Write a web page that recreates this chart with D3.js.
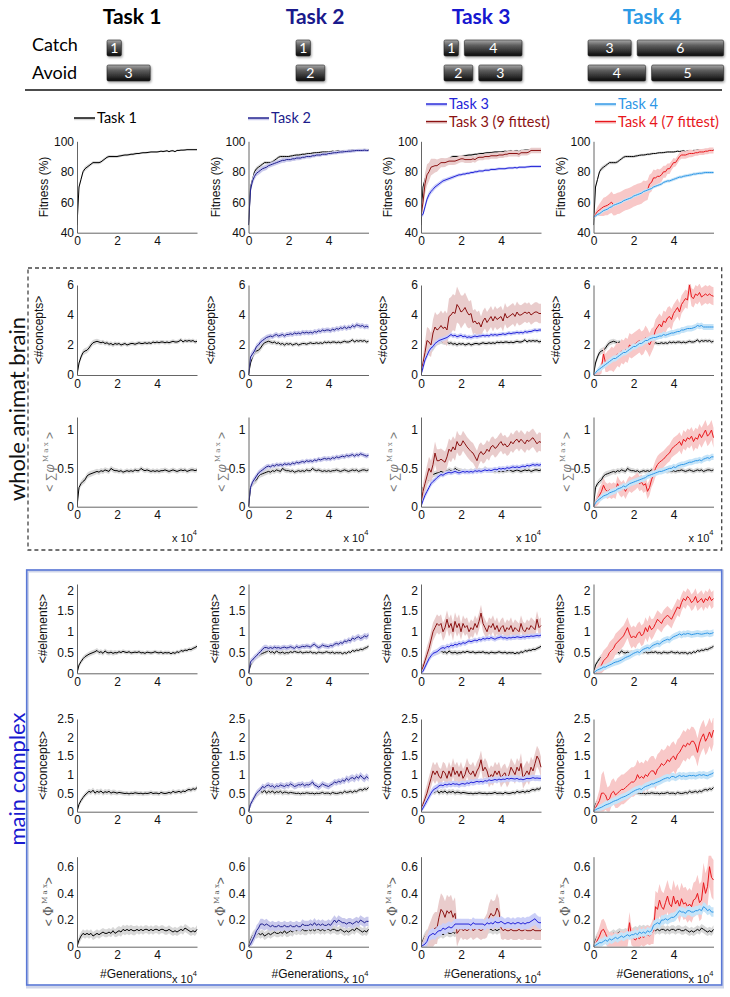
<!DOCTYPE html>
<html><head><meta charset="utf-8">
<script src="https://cdn.jsdelivr.net/npm/d3@7"></script>
<style>body{margin:0;background:#fff}</style>
</head><body>
<svg id="c" width="730" height="997"></svg>
<script>
// ---------- DATA ----------
const generations = d3.range(61).map(i => i / 10); // x 10^4 generations
const tasks = ["Task 1", "Task 2", "Task 3", "Task 4"];
const catchBlocks = [[1], [1], [1, 4], [3, 6]];
const avoidBlocks = [[3], [2], [2, 3], [4, 5]];
const legendLabels = [["Task 1"], ["Task 2"], ["Task 3", "Task 3 (9 fittest)"], ["Task 4", "Task 4 (7 fittest)"]];
const xTicks = [0, 2, 4];
const fitTicks = [40, 60, 80, 100];
const conWTicks = [0, 2, 4, 6];
const phiWTicks = [0, 0.5, 1];
const elMTicks = [0, 0.5, 1, 1.5, 2];
const conMTicks = [0, 0.5, 1, 1.5, 2, 2.5];
const phiMTicks = [0, 0.2, 0.4, 0.6];

// Fitness (%)
const fit_t1 = [45,70,75,80,82,83,84,85,86,86, 86,86,86.5,87.5,88.5,89.5,90,90,90,90, 90,90.3,90.5,90.8,91,91,91.2,91.5,91.5,91.8, 92,92,92.3,92.5,92.5,92.6,92.8,93,93,93, 93,93.2,93.5,93.3,93.5,93.8,93.2,93.7,93.8,93.2, 94,94,94.2,94.2,94.3,94.5,94.5,94.5,94.5,94.5,94.5];
const fit_t1_e = [0.5,1.5,1.5,1.5,1.5,1.5,1.2,1,1,1, 1,1,1,1,1,1,1,1,1,0.9, 0.9,0.9,0.8,0.8,0.8,0.8,0.8,0.8,0.8,0.8, 0.7,0.7,0.7,0.7,0.7,0.7,0.7,0.7,0.7,0.7, 0.6,0.6,0.6,0.6,0.6,0.6,0.6,0.6,0.6,0.6, 0.6,0.6,0.6,0.6,0.6,0.6,0.6,0.6,0.6,0.6,0.6];
const fit_t2 = [45,68,74,77,79,80,81,82,82.5,83, 84,84.5,85,85.5,86,86.5,87,87.5,87.5,88, 88,88,88.5,88.5,89,89,89,89.5,89.5,90, 90,90,90.5,90.5,91,91,91,91.5,91.5,91.5, 92,92,92.3,92.5,92.5,92.8,93,93,93.2,93.3, 93.5,93.5,93.7,93.8,94,94,94,94,94.2,94,94];
const fit_t2_e = [1,2.5,2.5,2.2,2,2,2,1.8,1.8,1.8, 1.6,1.6,1.6,1.5,1.5,1.5,1.5,1.5,1.5,1.5, 1.4,1.4,1.4,1.4,1.4,1.4,1.3,1.3,1.3,1.3, 1.3,1.3,1.2,1.2,1.2,1.2,1.2,1.2,1.2,1.2, 1.2,1.2,1.2,1.2,1.2,1.1,1.1,1.1,1.1,1.1, 1.1,1.1,1.1,1.1,1,1,1,1,1,1,1];
const fit_t3 = [51,52,57,62,65,67,68.5,70,71,72, 73,74,74.5,75,75.5,76,76.5,77,77.5,78, 78,78.5,78.5,79,79,79.5,79.5,80,80,80.5, 80.5,80.5,81,81,81,81.5,81.5,81.5,81.8,82, 82,82,82,82.3,82.5,82.5,82.5,82.8,82.5,83, 83,83,83,83.2,83.3,83.5,83.5,83.5,83.5,83.5,83.5];
const fit_t3_e = [0.5,1.5,2,2,2,1.8,1.8,1.6,1.5,1.5, 1.4,1.4,1.3,1.3,1.2,1.2,1.2,1.1,1.1,1.1, 1,1,1,1,1,1,1,1,1,1, 0.9,0.9,0.9,0.9,0.9,0.9,0.9,0.9,0.9,0.9, 0.8,0.8,0.8,0.8,0.8,0.8,0.8,0.8,0.8,0.8, 0.8,0.8,0.8,0.8,0.8,0.8,0.8,0.8,0.8,0.8,0.8];
const fit_t3f = [51,60,72,78,80,83,83.5,84,84,85, 86,86,86,86.5,87,87,87,87,87.5,88, 88.5,88.5,88,88,88,88,88.5,88,89,89.5, 89.5,89.5,90,90,90,90.5,90.5,90.5,90.5,91, 91,91,91.5,91.5,92,92,92,92,92,91.5, 92.5,92.5,92.5,92.5,93,94,94,94,94,94,94];
const fit_t3f_e = [1,5,7,7,6,5.5,5,4.5,4,3.5, 3,3,2.8,2.6,2.5,2.5,2.5,2.4,2.4,2.3, 2.2,2.2,2.2,2.2,2.2,2.2,2.1,2.1,2.1,2, 2,2,2,2,2,2,2,2,2,2, 2,2,2,2,2,2,2,2,2,2, 1.8,1.8,1.8,1.8,1.8,1.8,1.8,1.8,1.8,1.8,1.8];
const fit_t4 = [50,51,52,52.5,53.5,54.5,55,55.5,56.5,57, 58,58.5,59,59.5,60,61,61.5,62,62.5,63, 64,64.5,65,65.5,66,67,67.5,68,68.5,69, 70,70.5,71,71.5,72,73,73.5,74,74,74.5, 75,75.5,76,76.5,76.5,77,77.3,77.5,77.8,78, 78.5,78.5,78.8,79,79,79.3,79.5,79.5,79.5,79.5,79.5];
const fit_t4_e = [0.5,0.8,1,1,1,1,1,1,1,1, 1,1,1,1,1,1,1,1,1,1, 1,1,1,1,1,1,1,1,1,1, 1,1,1,1,1,1,1,1,1,1, 1,1,1,1,1,1,1,1,1,1, 1,1,1,1,1,1,1,1,1,1,1];
const fit_t4f = [50,52,54,55,56,57,57.5,58,59,60, 58.3,58.5,59.2,59.5,60.2,61,61.7,62,62.5,63.2, 64,64.5,65.2,65.5,66,67.2,67.5,68,72,73, 76,76,77,77,78,80,80,82,82,84, 86,86,88,90,91,91,91,91.5,92,92, 92,92.5,92.5,93,93,93,93.5,93.5,94,94,94];
const fit_t4f_e = [1,2,3,4,5,6,6,6.5,6.5,7, 7,7,7,7,7,7,7,7,7,7, 7,7,7,7,7,7,6.5,6.5,6,6, 5.5,5,5,4.5,4.5,4,4,3.5,3.5,3, 3,2.5,2.5,2.5,2.5,2.5,2.5,2.5,2.5,2.5, 2,2,2,2,2,2,2,2,2,2,2];

// <#concepts> whole animat brain
const conW_t1 = [0,0.8,1.2,1.5,1.6,1.65,1.8,2.0,2.15,2.2, 2.25,2.2,2.15,2.2,2.1,2.15,2.05,2.1,2.0,2.1, 2.05,2.1,2.0,2.05,2.1,2.0,2.05,2.1,2.1,2.05, 2.1,2.15,2.1,2.1,2.15,2.1,2.15,2.1,2.2,2.15, 2.2,2.15,2.2,2.2,2.15,2.2,2.15,2.2,2.25,2.2, 2.2,2.25,2.35,2.2,2.3,2.25,2.3,2.25,2.3,2.2,2.25];
const conW_t1_e = [0.05,0.2,0.2,0.2,0.2,0.2,0.2,0.2,0.18,0.18, 0.16,0.16,0.15,0.15,0.15,0.15,0.15,0.15,0.15,0.15, 0.14,0.14,0.14,0.14,0.14,0.14,0.14,0.14,0.14,0.14, 0.14,0.14,0.14,0.14,0.14,0.14,0.14,0.14,0.14,0.14, 0.13,0.13,0.13,0.13,0.13,0.13,0.13,0.13,0.13,0.13, 0.13,0.13,0.13,0.13,0.13,0.13,0.13,0.13,0.13,0.13,0.13];
const conW_t2 = [0,1.2,1.4,1.6,1.9,2.0,2.2,2.3,2.4,2.5, 2.55,2.6,2.55,2.65,2.7,2.6,2.65,2.7,2.6,2.7, 2.7,2.75,2.7,2.8,2.75,2.8,2.75,2.85,2.8,2.85, 2.8,2.85,2.8,2.9,2.85,2.95,2.9,3.0,2.95,3.0, 3.0,2.95,3.05,3.0,3.1,3.05,3.15,3.1,3.2,3.1, 3.2,3.15,3.3,3.2,3.35,3.3,3.25,3.3,3.2,3.25,3.2];
const conW_t2_e = [0.05,0.25,0.25,0.2,0.2,0.2,0.2,0.2,0.18,0.18, 0.17,0.17,0.17,0.17,0.16,0.16,0.16,0.16,0.16,0.16, 0.16,0.16,0.16,0.16,0.16,0.16,0.16,0.16,0.16,0.16, 0.16,0.16,0.16,0.16,0.16,0.16,0.16,0.16,0.16,0.16, 0.16,0.16,0.16,0.16,0.16,0.16,0.16,0.16,0.16,0.16, 0.16,0.16,0.16,0.16,0.16,0.16,0.16,0.16,0.16,0.16,0.16];
const conW_t3 = [0,0.5,1.0,1.3,1.6,1.8,1.9,2.1,2.2,2.3, 2.35,2.4,2.45,2.5,2.6,2.7,2.6,2.65,2.55,2.6, 2.65,2.55,2.6,2.5,2.55,2.5,2.55,2.6,2.55,2.6, 2.6,2.65,2.6,2.65,2.6,2.7,2.65,2.7,2.65,2.7, 2.7,2.75,2.7,2.75,2.8,2.75,2.8,2.8,2.85,2.8, 2.85,2.8,2.9,2.85,2.9,2.9,2.95,3.0,2.95,3.0,3.0];
const conW_t3_e = [0.05,0.2,0.2,0.2,0.2,0.18,0.18,0.18,0.16,0.16, 0.15,0.15,0.15,0.15,0.15,0.15,0.15,0.15,0.15,0.15, 0.15,0.15,0.15,0.15,0.15,0.15,0.15,0.15,0.15,0.15, 0.14,0.14,0.14,0.14,0.14,0.14,0.14,0.14,0.14,0.14, 0.14,0.14,0.14,0.14,0.14,0.14,0.14,0.14,0.14,0.14, 0.14,0.14,0.14,0.14,0.14,0.14,0.14,0.14,0.14,0.14,0.14];
const conW_t3f = [0.2,0.8,1.5,2.3,2.2,2.0,2.8,3.2,3.0,3.1, 3.3,3.1,3.2,3.0,3.9,4.0,4.2,4.1,4.7,4.5, 4.2,4.3,4.5,4.2,4.0,4.1,3.5,3.6,3.4,3.5, 3.2,3.6,3.8,3.5,3.7,3.9,3.6,3.9,3.7,3.8, 3.9,3.6,4.1,3.8,3.9,4.0,4.1,3.9,4.2,4.0, 4.0,4.1,4.2,4.1,4.2,4.0,4.1,4.2,4.2,4.1,4.1];
const conW_t3f_e = [0.2,0.5,0.7,0.9,0.9,0.8,0.9,1,1,1, 1,1,1.1,1.1,1.2,1.2,1.2,1.2,1.2,1.1, 1.1,1,1,1,0.9,0.9,0.8,0.8,0.8,0.8, 0.7,0.7,0.7,0.7,0.7,0.7,0.7,0.7,0.7,0.7, 0.7,0.7,0.7,0.7,0.7,0.7,0.7,0.7,0.7,0.7, 0.65,0.65,0.65,0.65,0.65,0.65,0.65,0.65,0.65,0.65,0.65];
const conW_t4 = [0,0.15,0.3,0.4,0.5,0.6,0.7,0.8,0.9,1.0, 1.1,1.1,1.2,1.3,1.4,1.5,1.5,1.6,1.7,1.8, 1.9,1.9,2.0,2.1,2.1,2.2,2.3,2.3,2.4,2.45, 2.5,2.5,2.55,2.6,2.6,2.7,2.65,2.7,2.75,2.8, 2.8,2.85,2.9,2.9,3.0,3.0,3.05,3.1,3.1,3.1, 3.15,3.2,3.3,3.25,3.3,3.2,3.2,3.2,3.2,3.2,3.2];
const conW_t4_e = [0.05,0.1,0.15,0.2,0.2,0.2,0.2,0.2,0.2,0.2, 0.2,0.2,0.2,0.2,0.2,0.2,0.2,0.2,0.2,0.2, 0.2,0.2,0.2,0.2,0.2,0.2,0.2,0.2,0.2,0.2, 0.2,0.2,0.2,0.2,0.2,0.2,0.2,0.2,0.2,0.2, 0.2,0.2,0.2,0.2,0.2,0.2,0.2,0.2,0.2,0.2, 0.2,0.2,0.2,0.2,0.2,0.2,0.2,0.2,0.2,0.2,0.2];
const conW_t4f = [0,0.1,0.2,0.3,0.5,1.4,0.8,0.9,1.0,1.1, 1.0,1.2,1.4,1.3,1.6,1.5,1.7,1.6,2.0,1.9, 2.0,2.1,2.2,2.3,2.1,2.2,2.5,2.3,2.0,2.3, 2.5,3.0,3.2,3.4,3.2,3.6,3.5,3.8,3.9,3.7, 4.1,4.3,4.5,4.2,4.7,4.9,5.1,5.0,6.0,5.2, 5.1,5.4,5.3,5.5,5.2,5.3,5.4,5.3,5.4,5.3,5.25];
const conW_t4f_e = [0.05,0.1,0.2,0.3,0.4,0.5,0.6,0.7,0.7,0.8, 0.8,0.8,0.8,0.8,0.8,0.8,0.8,0.8,0.8,0.8, 0.8,0.8,0.8,0.8,0.8,0.8,0.8,0.8,0.8,0.8, 0.7,0.7,0.7,0.7,0.7,0.7,0.7,0.7,0.7,0.7, 0.6,0.6,0.6,0.6,0.6,0.6,0.6,0.6,0.6,0.6, 0.6,0.6,0.6,0.6,0.6,0.6,0.6,0.6,0.6,0.6,0.6];

// < sum phi Max > whole animat brain
const phiW_t1 = [0,0.25,0.3,0.33,0.35,0.4,0.42,0.43,0.44,0.45, 0.46,0.45,0.47,0.46,0.48,0.47,0.46,0.5,0.48,0.47, 0.47,0.46,0.47,0.45,0.46,0.47,0.46,0.47,0.46,0.48, 0.47,0.47,0.5,0.48,0.47,0.48,0.47,0.46,0.47,0.46, 0.47,0.46,0.47,0.47,0.48,0.47,0.46,0.47,0.48,0.47, 0.46,0.47,0.48,0.47,0.48,0.46,0.47,0.48,0.48,0.47,0.48];
const phiW_t1_e = [0.01,0.04,0.04,0.04,0.04,0.04,0.04,0.04,0.035,0.035, 0.035,0.035,0.035,0.035,0.035,0.035,0.035,0.035,0.035,0.035, 0.03,0.03,0.03,0.03,0.03,0.03,0.03,0.03,0.03,0.03, 0.03,0.03,0.03,0.03,0.03,0.03,0.03,0.03,0.03,0.03, 0.03,0.03,0.03,0.03,0.03,0.03,0.03,0.03,0.03,0.03, 0.03,0.03,0.03,0.03,0.03,0.03,0.03,0.03,0.03,0.03,0.03];
const phiW_t2 = [0,0.25,0.32,0.36,0.4,0.44,0.46,0.48,0.5,0.52, 0.53,0.52,0.54,0.53,0.55,0.54,0.55,0.54,0.56,0.55, 0.56,0.55,0.57,0.56,0.58,0.57,0.58,0.59,0.58,0.6, 0.59,0.6,0.59,0.61,0.6,0.62,0.61,0.62,0.63,0.62, 0.63,0.62,0.64,0.63,0.65,0.64,0.65,0.66,0.65,0.67, 0.66,0.67,0.68,0.66,0.68,0.67,0.69,0.68,0.67,0.66,0.67];
const phiW_t2_e = [0.01,0.04,0.04,0.04,0.035,0.035,0.035,0.035,0.035,0.035, 0.03,0.03,0.03,0.03,0.03,0.03,0.03,0.03,0.03,0.03, 0.03,0.03,0.03,0.03,0.03,0.03,0.03,0.03,0.03,0.03, 0.03,0.03,0.03,0.03,0.03,0.03,0.03,0.03,0.03,0.03, 0.03,0.03,0.03,0.03,0.03,0.03,0.03,0.03,0.03,0.03, 0.03,0.03,0.03,0.03,0.03,0.03,0.03,0.03,0.03,0.03,0.03];
const phiW_t3 = [0,0.08,0.15,0.2,0.25,0.3,0.33,0.35,0.38,0.4, 0.42,0.41,0.43,0.44,0.45,0.44,0.45,0.46,0.45,0.44, 0.45,0.46,0.45,0.46,0.45,0.46,0.45,0.47,0.46,0.47, 0.46,0.47,0.48,0.47,0.48,0.47,0.48,0.49,0.48,0.5, 0.49,0.5,0.49,0.51,0.5,0.51,0.52,0.51,0.52,0.51, 0.52,0.53,0.52,0.54,0.53,0.54,0.55,0.54,0.55,0.54,0.55];
const phiW_t3_e = [0.01,0.03,0.04,0.04,0.04,0.04,0.035,0.035,0.035,0.035, 0.03,0.03,0.03,0.03,0.03,0.03,0.03,0.03,0.03,0.03, 0.03,0.03,0.03,0.03,0.03,0.03,0.03,0.03,0.03,0.03, 0.03,0.03,0.03,0.03,0.03,0.03,0.03,0.03,0.03,0.03, 0.03,0.03,0.03,0.03,0.03,0.03,0.03,0.03,0.03,0.03, 0.03,0.03,0.03,0.03,0.03,0.03,0.03,0.03,0.03,0.03,0.03];
const phiW_t3f = [0.05,0.2,0.3,0.4,0.5,0.45,0.55,0.7,0.6,0.6, 0.62,0.6,0.58,0.65,0.75,0.72,0.78,0.74,0.85,0.8, 0.8,0.86,0.82,0.78,0.75,0.72,0.7,0.65,0.6,0.68, 0.72,0.68,0.7,0.75,0.72,0.78,0.8,0.76,0.78,0.82, 0.85,0.8,0.82,0.78,0.8,0.85,0.82,0.86,0.88,0.84, 0.88,0.85,0.82,0.87,0.85,0.88,0.9,0.86,0.82,0.85,0.84];
const phiW_t3f_e = [0.05,0.1,0.12,0.14,0.15,0.15,0.15,0.15,0.15,0.15, 0.14,0.14,0.14,0.14,0.14,0.14,0.14,0.14,0.14,0.14, 0.13,0.13,0.13,0.13,0.13,0.13,0.13,0.13,0.13,0.13, 0.12,0.12,0.12,0.12,0.12,0.12,0.12,0.12,0.12,0.12, 0.12,0.12,0.12,0.12,0.12,0.12,0.12,0.12,0.12,0.12, 0.12,0.12,0.12,0.12,0.12,0.12,0.12,0.12,0.12,0.12,0.12];
const phiW_t4 = [0,0.05,0.08,0.1,0.12,0.14,0.15,0.16,0.18,0.19, 0.2,0.21,0.23,0.24,0.25,0.27,0.26,0.28,0.3,0.31, 0.32,0.33,0.34,0.35,0.36,0.37,0.38,0.4,0.41,0.42, 0.43,0.44,0.45,0.46,0.46,0.47,0.48,0.49,0.5,0.5, 0.52,0.51,0.53,0.54,0.55,0.55,0.56,0.57,0.58,0.58, 0.59,0.6,0.6,0.61,0.6,0.62,0.63,0.64,0.63,0.65,0.65];
const phiW_t4_e = [0.01,0.02,0.03,0.04,0.04,0.04,0.04,0.04,0.04,0.04, 0.04,0.04,0.04,0.04,0.04,0.04,0.04,0.04,0.04,0.04, 0.04,0.04,0.04,0.04,0.04,0.04,0.04,0.04,0.04,0.04, 0.04,0.04,0.04,0.04,0.04,0.04,0.04,0.04,0.04,0.04, 0.04,0.04,0.04,0.04,0.04,0.04,0.04,0.04,0.04,0.04, 0.04,0.04,0.04,0.04,0.04,0.04,0.04,0.04,0.04,0.04,0.04];
const phiW_t4f = [0,0.05,0.1,0.15,0.2,0.28,0.22,0.2,0.22,0.2, 0.22,0.2,0.3,0.25,0.22,0.25,0.2,0.26,0.3,0.28, 0.3,0.32,0.35,0.3,0.32,0.28,0.3,0.2,0.25,0.35, 0.42,0.5,0.55,0.58,0.6,0.62,0.65,0.68,0.7,0.75, 0.78,0.8,0.82,0.85,0.8,0.88,0.85,0.9,0.88,0.92, 0.85,0.9,0.88,0.95,0.9,0.95,1.0,0.92,0.95,1.0,0.9];
const phiW_t4f_e = [0.02,0.05,0.08,0.1,0.1,0.1,0.1,0.1,0.1,0.1, 0.1,0.1,0.1,0.1,0.1,0.1,0.1,0.1,0.1,0.1, 0.1,0.1,0.1,0.1,0.1,0.1,0.1,0.1,0.1,0.1, 0.11,0.11,0.11,0.11,0.11,0.11,0.11,0.11,0.11,0.11, 0.12,0.12,0.12,0.12,0.12,0.12,0.12,0.12,0.12,0.12, 0.13,0.13,0.13,0.13,0.13,0.13,0.13,0.13,0.13,0.13,0.13];

// <#elements> main complex
const elM_t1 = [0,0.2,0.28,0.35,0.4,0.43,0.46,0.48,0.5,0.52, 0.55,0.5,0.52,0.48,0.54,0.5,0.49,0.51,0.48,0.5, 0.49,0.52,0.5,0.53,0.51,0.5,0.52,0.49,0.5,0.51, 0.5,0.52,0.49,0.5,0.48,0.51,0.5,0.49,0.5,0.52, 0.5,0.49,0.51,0.48,0.5,0.49,0.5,0.47,0.5,0.48, 0.52,0.5,0.55,0.53,0.56,0.55,0.58,0.57,0.6,0.62,0.65];
const elM_t1_e = [0.02,0.06,0.06,0.06,0.06,0.06,0.06,0.06,0.06,0.06, 0.06,0.06,0.06,0.06,0.06,0.06,0.06,0.06,0.06,0.06, 0.05,0.05,0.05,0.05,0.05,0.05,0.05,0.05,0.05,0.05, 0.05,0.05,0.05,0.05,0.05,0.05,0.05,0.05,0.05,0.05, 0.05,0.05,0.05,0.05,0.05,0.05,0.05,0.05,0.05,0.05, 0.05,0.05,0.05,0.05,0.05,0.05,0.05,0.05,0.05,0.05,0.05];
const elM_t2 = [0,0.28,0.32,0.38,0.42,0.48,0.52,0.58,0.62,0.62, 0.6,0.62,0.6,0.63,0.61,0.62,0.6,0.62,0.63,0.61, 0.62,0.64,0.62,0.6,0.65,0.62,0.63,0.65,0.64,0.66, 0.65,0.63,0.68,0.7,0.65,0.62,0.64,0.68,0.66,0.65, 0.64,0.67,0.66,0.7,0.72,0.7,0.74,0.72,0.78,0.76, 0.8,0.78,0.85,0.82,0.86,0.88,0.84,0.86,0.9,0.88,0.92];
const elM_t2_e = [0.02,0.07,0.07,0.07,0.07,0.07,0.07,0.07,0.07,0.07, 0.06,0.06,0.06,0.06,0.06,0.06,0.06,0.06,0.06,0.06, 0.06,0.06,0.06,0.06,0.06,0.06,0.06,0.06,0.06,0.06, 0.06,0.06,0.06,0.06,0.06,0.06,0.06,0.06,0.06,0.06, 0.06,0.06,0.06,0.06,0.06,0.06,0.06,0.06,0.06,0.06, 0.07,0.07,0.07,0.07,0.07,0.07,0.07,0.07,0.07,0.07,0.07];
const elM_t3 = [0,0.05,0.15,0.25,0.35,0.42,0.48,0.5,0.52,0.56, 0.6,0.62,0.6,0.65,0.63,0.68,0.66,0.7,0.68,0.72, 0.7,0.74,0.72,0.75,0.78,0.76,0.78,0.8,0.78,0.82, 0.8,0.84,0.82,0.85,0.83,0.86,0.84,0.82,0.85,0.86, 0.88,0.85,0.86,0.84,0.86,0.85,0.87,0.86,0.88,0.87, 0.86,0.88,0.87,0.89,0.88,0.9,0.89,0.9,0.91,0.9,0.92];
const elM_t3_e = [0.02,0.05,0.07,0.07,0.07,0.07,0.07,0.07,0.07,0.07, 0.07,0.07,0.07,0.07,0.07,0.07,0.07,0.07,0.07,0.07, 0.06,0.06,0.06,0.06,0.06,0.06,0.06,0.06,0.06,0.06, 0.06,0.06,0.06,0.06,0.06,0.06,0.06,0.06,0.06,0.06, 0.06,0.06,0.06,0.06,0.06,0.06,0.06,0.06,0.06,0.06, 0.06,0.06,0.06,0.06,0.06,0.06,0.06,0.06,0.06,0.06,0.06];
const elM_t3f = [0.05,0.15,0.3,0.45,0.6,0.8,1.0,1.1,1.2,1.15, 1.2,1.0,1.1,1.3,1.1,1.2,1.0,1.25,1.1,1.2, 1.0,1.2,1.1,1.15,1.0,1.1,1.05,1.2,1.1,1.25, 1.45,1.2,1.1,1.0,1.15,1.1,1.2,1.05,1.15,1.0, 1.1,1.15,1.0,1.1,1.05,1.15,1.0,1.1,1.05,1.0, 1.2,1.05,1.0,1.1,1.05,1.15,1.1,1.05,1.3,1.1,1.15];
const elM_t3f_e = [0.05,0.1,0.15,0.2,0.2,0.22,0.22,0.22,0.22,0.22, 0.22,0.22,0.22,0.22,0.22,0.22,0.22,0.22,0.22,0.22, 0.2,0.2,0.2,0.2,0.2,0.2,0.2,0.2,0.2,0.2, 0.2,0.2,0.2,0.2,0.2,0.2,0.2,0.2,0.2,0.2, 0.2,0.2,0.2,0.2,0.2,0.2,0.2,0.2,0.2,0.2, 0.2,0.2,0.2,0.2,0.2,0.2,0.2,0.2,0.2,0.2,0.2];
const elM_t4 = [0,0.05,0.08,0.1,0.12,0.15,0.15,0.18,0.2,0.22, 0.25,0.27,0.28,0.3,0.32,0.35,0.38,0.4,0.42,0.45, 0.48,0.5,0.52,0.5,0.55,0.58,0.6,0.62,0.6,0.65, 0.68,0.7,0.72,0.7,0.75,0.78,0.8,0.82,0.8,0.85, 0.88,0.9,0.92,0.95,0.92,0.95,0.94,0.96,0.95,0.93, 0.94,0.95,0.96,0.95,0.94,0.95,0.96,0.97,0.95,0.96,0.98];
const elM_t4_e = [0.02,0.04,0.05,0.06,0.07,0.07,0.07,0.07,0.07,0.07, 0.08,0.08,0.08,0.08,0.08,0.08,0.08,0.08,0.08,0.08, 0.08,0.08,0.08,0.08,0.08,0.08,0.08,0.08,0.08,0.08, 0.08,0.08,0.08,0.08,0.08,0.08,0.08,0.08,0.08,0.08, 0.08,0.08,0.08,0.08,0.08,0.08,0.08,0.08,0.08,0.08, 0.08,0.08,0.08,0.08,0.08,0.08,0.08,0.08,0.08,0.08,0.08];
const elM_t4f = [0,0.02,0.05,0.08,0.2,0.3,0.35,0.4,0.5,0.55, 0.6,0.7,0.75,0.8,0.85,0.9,1.0,1.1,0.95,0.85, 0.9,0.85,0.95,1.0,0.9,0.95,1.1,1.0,1.15,1.05, 1.1,1.2,1.3,1.25,1.2,1.3,1.35,1.4,1.35,1.3, 1.4,1.5,1.6,1.55,1.7,1.8,1.75,1.85,1.8,1.7, 1.75,1.85,1.7,1.75,1.8,1.7,1.8,1.75,1.85,1.75,1.8];
const elM_t4f_e = [0.05,0.1,0.15,0.2,0.25,0.25,0.25,0.25,0.25,0.25, 0.25,0.25,0.25,0.25,0.25,0.25,0.25,0.25,0.25,0.25, 0.25,0.25,0.25,0.25,0.25,0.25,0.25,0.25,0.25,0.25, 0.22,0.22,0.22,0.22,0.22,0.22,0.22,0.22,0.22,0.22, 0.2,0.2,0.2,0.2,0.2,0.2,0.2,0.2,0.2,0.2, 0.2,0.2,0.2,0.2,0.2,0.2,0.2,0.2,0.2,0.2,0.2];

// <#concepts> main complex
const conM_t1 = [0,0.2,0.3,0.38,0.45,0.5,0.55,0.52,0.58,0.5, 0.55,0.52,0.56,0.5,0.54,0.52,0.55,0.5,0.53,0.52, 0.5,0.52,0.51,0.5,0.49,0.5,0.48,0.5,0.49,0.51, 0.5,0.49,0.5,0.48,0.5,0.49,0.5,0.52,0.49,0.5, 0.5,0.48,0.52,0.5,0.49,0.5,0.52,0.5,0.55,0.52, 0.53,0.55,0.52,0.56,0.54,0.58,0.6,0.58,0.62,0.6,0.65];
const conM_t1_e = [0.02,0.07,0.07,0.07,0.07,0.07,0.07,0.07,0.07,0.07, 0.07,0.07,0.07,0.07,0.07,0.07,0.07,0.07,0.07,0.07, 0.06,0.06,0.06,0.06,0.06,0.06,0.06,0.06,0.06,0.06, 0.06,0.06,0.06,0.06,0.06,0.06,0.06,0.06,0.06,0.06, 0.06,0.06,0.06,0.06,0.06,0.06,0.06,0.06,0.06,0.06, 0.06,0.06,0.06,0.06,0.06,0.06,0.06,0.06,0.06,0.06,0.06];
const conM_t2 = [0,0.2,0.3,0.4,0.5,0.55,0.6,0.68,0.65,0.7, 0.72,0.68,0.7,0.65,0.7,0.68,0.72,0.7,0.68,0.72, 0.7,0.75,0.72,0.68,0.7,0.73,0.72,0.75,0.7,0.73, 0.72,0.75,0.8,0.72,0.7,0.66,0.7,0.75,0.72,0.7, 0.68,0.72,0.75,0.8,0.78,0.82,0.8,0.85,0.82,0.9, 0.85,0.9,0.92,0.88,0.95,0.9,0.98,0.92,0.88,0.95,0.9];
const conM_t2_e = [0.02,0.08,0.08,0.08,0.08,0.08,0.08,0.08,0.08,0.08, 0.08,0.08,0.08,0.08,0.08,0.08,0.08,0.08,0.08,0.08, 0.08,0.08,0.08,0.08,0.08,0.08,0.08,0.08,0.08,0.08, 0.08,0.08,0.08,0.08,0.08,0.08,0.08,0.08,0.08,0.08, 0.08,0.08,0.08,0.08,0.08,0.08,0.08,0.08,0.08,0.08, 0.09,0.09,0.09,0.09,0.09,0.09,0.09,0.09,0.09,0.09,0.09];
const conM_t3 = [0,0.1,0.2,0.3,0.4,0.5,0.58,0.62,0.65,0.7, 0.72,0.7,0.74,0.72,0.75,0.73,0.76,0.74,0.75,0.72, 0.75,0.76,0.74,0.78,0.76,0.8,0.78,0.8,0.82,0.8, 0.82,0.8,0.84,0.82,0.86,0.84,0.85,0.87,0.85,0.88, 0.86,0.88,0.87,0.9,0.88,0.9,0.89,0.88,0.9,0.87, 0.88,0.86,0.88,0.9,0.89,0.9,0.92,0.9,0.91,0.9,0.9];
const conM_t3_e = [0.02,0.06,0.08,0.09,0.09,0.09,0.09,0.09,0.09,0.09, 0.08,0.08,0.08,0.08,0.08,0.08,0.08,0.08,0.08,0.08, 0.08,0.08,0.08,0.08,0.08,0.08,0.08,0.08,0.08,0.08, 0.08,0.08,0.08,0.08,0.08,0.08,0.08,0.08,0.08,0.08, 0.08,0.08,0.08,0.08,0.08,0.08,0.08,0.08,0.08,0.08, 0.08,0.08,0.08,0.08,0.08,0.08,0.08,0.08,0.08,0.08,0.08];
const conM_t3f = [0.1,0.2,0.35,0.5,0.7,0.9,1.1,1.0,1.1,0.95, 0.9,1.1,1.05,0.9,1.1,0.95,1.2,1.0,1.1,0.95, 1.1,0.9,1.0,1.2,1.05,1.0,1.1,0.95,1.1,1.2, 1.4,1.1,1.2,1.1,0.9,1.0,0.95,1.1,1.0,1.1, 0.9,1.0,1.05,0.9,1.0,1.2,1.1,1.0,1.2,1.1, 1.3,0.9,1.0,1.1,1.0,1.2,1.1,1.3,1.5,1.4,1.2];
const conM_t3f_e = [0.05,0.1,0.2,0.25,0.25,0.25,0.25,0.25,0.25,0.25, 0.25,0.25,0.25,0.25,0.25,0.25,0.25,0.25,0.25,0.25, 0.25,0.25,0.25,0.25,0.25,0.25,0.25,0.25,0.25,0.25, 0.25,0.25,0.25,0.25,0.25,0.25,0.25,0.25,0.25,0.25, 0.25,0.25,0.25,0.25,0.25,0.25,0.25,0.25,0.25,0.25, 0.28,0.28,0.28,0.28,0.28,0.28,0.28,0.28,0.28,0.28,0.28];
const conM_t4 = [0,0.05,0.08,0.1,0.12,0.15,0.18,0.2,0.22,0.25, 0.28,0.3,0.32,0.35,0.38,0.4,0.42,0.45,0.48,0.52, 0.55,0.58,0.6,0.62,0.6,0.65,0.68,0.7,0.72,0.75, 0.75,0.78,0.8,0.82,0.85,0.88,0.9,0.92,0.9,0.95, 0.95,0.92,0.95,0.98,0.95,0.97,0.95,0.96,0.98,0.97, 0.98,0.96,0.98,1.0,0.98,1.0,0.98,0.97,1.0,1.02,1.05];
const conM_t4_e = [0.02,0.05,0.07,0.08,0.09,0.1,0.1,0.1,0.1,0.1, 0.1,0.1,0.1,0.1,0.1,0.1,0.1,0.1,0.1,0.1, 0.1,0.1,0.1,0.1,0.1,0.1,0.1,0.1,0.1,0.1, 0.1,0.1,0.1,0.1,0.1,0.1,0.1,0.1,0.1,0.1, 0.1,0.1,0.1,0.1,0.1,0.1,0.1,0.1,0.1,0.1, 0.1,0.1,0.1,0.1,0.1,0.1,0.1,0.1,0.1,0.1,0.1];
const conM_t4f = [0,0.1,0.2,0.3,0.5,0.5,0.45,0.3,0.35,0.5, 0.55,0.45,0.5,0.55,0.6,0.6,0.65,0.7,0.75,0.8, 0.8,0.85,1.0,0.9,0.95,0.9,1.0,0.95,1.05,1.1, 1.1,1.0,1.15,1.2,1.3,1.25,1.3,1.4,1.35,1.45, 1.5,1.4,1.55,1.6,1.7,1.8,1.75,1.85,1.8,1.9, 1.9,1.8,1.6,1.85,2.0,2.1,1.9,2.0,2.15,2.0,2.2];
const conM_t4f_e = [0.05,0.1,0.2,0.3,0.5,0.6,0.4,0.35,0.35,0.35, 0.35,0.35,0.4,0.4,0.4,0.4,0.4,0.4,0.4,0.4, 0.4,0.4,0.4,0.4,0.4,0.4,0.4,0.4,0.4,0.4, 0.4,0.4,0.4,0.4,0.4,0.4,0.4,0.4,0.4,0.4, 0.4,0.4,0.4,0.4,0.4,0.4,0.4,0.4,0.4,0.4, 0.38,0.38,0.38,0.38,0.38,0.38,0.38,0.38,0.38,0.38,0.38];

// < Phi Max > main complex
const phiM_t1 = [0,0.05,0.08,0.1,0.09,0.1,0.09,0.1,0.08,0.09, 0.1,0.09,0.1,0.11,0.1,0.1,0.11,0.1,0.12,0.1, 0.11,0.12,0.11,0.13,0.12,0.13,0.12,0.13,0.12,0.12, 0.13,0.12,0.13,0.12,0.13,0.13,0.12,0.13,0.12,0.13, 0.13,0.12,0.13,0.13,0.12,0.12,0.13,0.12,0.11,0.12, 0.11,0.12,0.13,0.12,0.14,0.13,0.12,0.11,0.12,0.11,0.13];
const phiM_t1_e = [0.01,0.03,0.03,0.03,0.03,0.03,0.03,0.03,0.03,0.03, 0.03,0.03,0.03,0.03,0.03,0.03,0.03,0.03,0.03,0.03, 0.035,0.035,0.035,0.035,0.035,0.035,0.035,0.035,0.035,0.035, 0.03,0.03,0.03,0.03,0.03,0.03,0.03,0.03,0.03,0.03, 0.03,0.03,0.03,0.03,0.03,0.03,0.03,0.03,0.03,0.03, 0.03,0.03,0.03,0.03,0.03,0.03,0.03,0.03,0.03,0.03,0.03];
const phiM_t2 = [0,0.02,0.05,0.08,0.12,0.14,0.17,0.17,0.16,0.17, 0.16,0.15,0.16,0.15,0.15,0.16,0.15,0.15,0.16,0.15, 0.15,0.16,0.15,0.15,0.16,0.15,0.15,0.17,0.16,0.16, 0.16,0.17,0.16,0.18,0.16,0.17,0.16,0.17,0.16,0.16, 0.17,0.16,0.18,0.2,0.18,0.2,0.19,0.18,0.18,0.17, 0.18,0.18,0.17,0.18,0.19,0.18,0.2,0.19,0.18,0.19,0.19];
const phiM_t2_e = [0.01,0.03,0.035,0.035,0.04,0.04,0.04,0.04,0.04,0.04, 0.035,0.035,0.035,0.035,0.035,0.035,0.035,0.035,0.035,0.035, 0.035,0.035,0.035,0.035,0.035,0.035,0.035,0.035,0.035,0.035, 0.035,0.035,0.035,0.035,0.035,0.035,0.035,0.035,0.035,0.035, 0.035,0.035,0.035,0.035,0.035,0.035,0.035,0.035,0.035,0.035, 0.035,0.035,0.035,0.035,0.035,0.035,0.035,0.035,0.035,0.035,0.035];
const phiM_t3 = [0,0.01,0.02,0.04,0.08,0.09,0.1,0.09,0.11,0.12, 0.12,0.14,0.13,0.14,0.15,0.14,0.15,0.17,0.17,0.17, 0.17,0.17,0.17,0.17,0.17,0.16,0.18,0.17,0.17,0.17, 0.17,0.17,0.16,0.18,0.17,0.18,0.17,0.19,0.18,0.18, 0.19,0.18,0.17,0.18,0.18,0.17,0.18,0.17,0.18,0.18, 0.17,0.18,0.17,0.18,0.18,0.19,0.2,0.21,0.19,0.18,0.18];
const phiM_t3_e = [0.01,0.02,0.03,0.04,0.04,0.04,0.04,0.04,0.04,0.04, 0.04,0.04,0.04,0.04,0.04,0.04,0.04,0.04,0.04,0.04, 0.04,0.04,0.04,0.04,0.04,0.04,0.04,0.04,0.04,0.04, 0.04,0.04,0.04,0.04,0.04,0.04,0.04,0.04,0.04,0.04, 0.04,0.04,0.04,0.04,0.04,0.04,0.04,0.04,0.04,0.04, 0.045,0.045,0.045,0.045,0.045,0.045,0.045,0.045,0.045,0.045,0.045];
const phiM_t3f = [0,0.02,0.04,0.06,0.08,0.1,0.12,0.14,0.14,0.22, 0.28,0.26,0.22,0.27,0.25,0.27,0.22,0.25,0.1,0.12, 0.14,0.12,0.13,0.12,0.13,0.14,0.12,0.13,0.14,0.13, 0.12,0.13,0.14,0.16,0.22,0.25,0.23,0.24,0.29,0.26, 0.14,0.12,0.13,0.12,0.12,0.13,0.12,0.12,0.12,0.13, 0.12,0.12,0.13,0.12,0.12,0.12,0.13,0.12,0.12,0.12,0.12];
const phiM_t3f_e = [0.01,0.03,0.05,0.06,0.08,0.1,0.12,0.12,0.12,0.12, 0.12,0.12,0.12,0.12,0.12,0.12,0.12,0.12,0.1,0.08, 0.07,0.07,0.07,0.07,0.07,0.07,0.07,0.07,0.07,0.07, 0.07,0.07,0.08,0.09,0.1,0.11,0.11,0.11,0.11,0.1, 0.08,0.07,0.07,0.07,0.07,0.07,0.07,0.07,0.07,0.07, 0.07,0.07,0.07,0.07,0.07,0.07,0.07,0.07,0.07,0.07,0.07];
const phiM_t4 = [0,0.01,0.02,0.03,0.03,0.04,0.05,0.04,0.06,0.05, 0.06,0.07,0.06,0.07,0.08,0.07,0.08,0.09,0.08,0.09, 0.09,0.1,0.09,0.11,0.1,0.11,0.1,0.12,0.11,0.12, 0.16,0.17,0.18,0.17,0.2,0.2,0.21,0.2,0.21,0.22, 0.22,0.23,0.25,0.27,0.26,0.26,0.25,0.27,0.27,0.26, 0.26,0.27,0.27,0.28,0.27,0.3,0.29,0.27,0.28,0.26,0.26];
const phiM_t4_e = [0.01,0.02,0.02,0.03,0.03,0.03,0.03,0.03,0.03,0.03, 0.03,0.03,0.03,0.03,0.03,0.03,0.03,0.03,0.03,0.03, 0.03,0.03,0.03,0.03,0.03,0.03,0.03,0.03,0.03,0.03, 0.035,0.035,0.035,0.035,0.035,0.035,0.035,0.035,0.035,0.035, 0.035,0.035,0.035,0.035,0.035,0.035,0.035,0.035,0.035,0.035, 0.035,0.035,0.035,0.035,0.035,0.035,0.035,0.035,0.035,0.035,0.035];
const phiM_t4f = [0,0.02,0.05,0.08,0.12,0.13,0.1,0.06,0.04,0.05, 0.04,0.05,0.04,0.05,0.06,0.05,0.06,0.07,0.18,0.08, 0.06,0.05,0.07,0.06,0.08,0.07,0.08,0.09,0.08,0.1, 0.12,0.3,0.28,0.35,0.3,0.28,0.33,0.38,0.32,0.3, 0.38,0.32,0.35,0.3,0.36,0.32,0.33,0.3,0.32,0.3, 0.35,0.36,0.4,0.33,0.35,0.48,0.4,0.45,0.6,0.52,0.5];
const phiM_t4f_e = [0.01,0.03,0.05,0.07,0.08,0.08,0.08,0.07,0.06,0.06, 0.06,0.06,0.06,0.06,0.06,0.06,0.06,0.07,0.08,0.07, 0.07,0.07,0.07,0.07,0.07,0.07,0.07,0.07,0.07,0.08, 0.1,0.12,0.12,0.12,0.12,0.12,0.12,0.12,0.12,0.12, 0.12,0.12,0.12,0.12,0.12,0.12,0.12,0.12,0.12,0.12, 0.13,0.13,0.14,0.14,0.14,0.15,0.15,0.15,0.15,0.15,0.15];

// ---------- CHART ----------
const svg = d3.select("#c");
const defs = svg.append("defs");
const SANS = "'Liberation Sans', Arial, Helvetica, sans-serif";
const CAL = "Lato, 'Open Sans', sans-serif";

const lineColor = {t1:"#000000", t2:"#1c1c8c", t3:"#2424d8", t3f:"#8b1212", t4:"#2d96e6", t4f:"#e8161b"};
const bandColor = {t1:"#d8d8d8", t2:"#c9c9ec", t3:"#cbcff8", t3f:"#e9cccc", t4:"#c6e4f8", t4f:"#f8c8c8"};
const seriesByCol = [["t1"], ["t1","t2"], ["t1","t3f","t3"], ["t1","t4f","t4"]];
const legendKeys = [["t1"], ["t2"], ["t3","t3f"], ["t4","t4f"]];
const colX = [77, 248.5, 421, 593.5];
const PW = 120;

const rows = [
  {key:"fit", domain:[40,100], ticks:fitTicks, top:141.3, bottom:232.7, label:"Fitness (%)", ldx:-33,
   s:{t1:[fit_t1,fit_t1_e], t2:[fit_t2,fit_t2_e], t3:[fit_t3,fit_t3_e], t3f:[fit_t3f,fit_t3f_e], t4:[fit_t4,fit_t4_e], t4f:[fit_t4f,fit_t4f_e]}},
  {key:"conW", domain:[0,6], ticks:conWTicks, top:285, bottom:375, label:"<#concepts>", ldx:-38,
   s:{t1:[conW_t1,conW_t1_e], t2:[conW_t2,conW_t2_e], t3:[conW_t3,conW_t3_e], t3f:[conW_t3f,conW_t3f_e], t4:[conW_t4,conW_t4_e], t4f:[conW_t4f,conW_t4f_e]}},
  {key:"phiW", domain:[0,1.17], ticks:phiWTicks, top:417, bottom:506.7, label:"sumphi", ldx:-27, xexp:"plain",
   s:{t1:[phiW_t1,phiW_t1_e], t2:[phiW_t2,phiW_t2_e], t3:[phiW_t3,phiW_t3_e], t3f:[phiW_t3f,phiW_t3f_e], t4:[phiW_t4,phiW_t4_e], t4f:[phiW_t4f,phiW_t4f_e]}},
  {key:"elM", domain:[0,2.15], ticks:elMTicks, top:584, bottom:673.3, label:"<#elements>", ldx:-34,
   s:{t1:[elM_t1,elM_t1_e], t2:[elM_t2,elM_t2_e], t3:[elM_t3,elM_t3_e], t3f:[elM_t3f,elM_t3f_e], t4:[elM_t4,elM_t4_e], t4f:[elM_t4f,elM_t4f_e]}},
  {key:"conM", domain:[0,2.5], ticks:conMTicks, top:719, bottom:811.7, label:"<#concepts>", ldx:-34,
   s:{t1:[conM_t1,conM_t1_e], t2:[conM_t2,conM_t2_e], t3:[conM_t3,conM_t3_e], t3f:[conM_t3f,conM_t3f_e], t4:[conM_t4,conM_t4_e], t4f:[conM_t4f,conM_t4f_e]}},
  {key:"phiM", domain:[0,0.675], ticks:phiMTicks, top:856.7, bottom:946.7, label:"Phi", ldx:-28, xexp:"gen",
   s:{t1:[phiM_t1,phiM_t1_e], t2:[phiM_t2,phiM_t2_e], t3:[phiM_t3,phiM_t3_e], t3f:[phiM_t3f,phiM_t3f_e], t4:[phiM_t4,phiM_t4_e], t4f:[phiM_t4f,phiM_t4f_e]}}
];

// ---- header ----
const taskX = [132, 315, 481, 652];
const taskColors = ["#000000", "#1a1a8c", "#1717cf", "#2d9be6"];
svg.selectAll(".task").data(tasks).join("text")
  .attr("x", (d,i) => taskX[i]).attr("y", 24).attr("text-anchor","middle")
  .attr("font-family", CAL).attr("font-weight", 700).attr("font-size", 21)
  .attr("fill", (d,i) => taskColors[i]).text(d => d);
svg.append("text").attr("x", 32).attr("y", 51).attr("font-family", CAL).attr("font-size", 18).text("Catch");
svg.append("text").attr("x", 32).attr("y", 79).attr("font-family", CAL).attr("font-size", 18).text("Avoid");

const grad = defs.append("linearGradient").attr("id","blk").attr("x1",0).attr("y1",0).attr("x2",0).attr("y2",1);
grad.append("stop").attr("offset","0%").attr("stop-color","#a8a8a8");
grad.append("stop").attr("offset","35%").attr("stop-color","#5c5c5c");
grad.append("stop").attr("offset","100%").attr("stop-color","#0c0c0c");
const flt = defs.append("filter").attr("id","sh").attr("x","-20%").attr("y","-20%").attr("width","150%").attr("height","160%");
flt.append("feDropShadow").attr("dx",1).attr("dy",1.5).attr("stdDeviation",1).attr("flood-opacity",0.35);

const blockStart = [107, 296, 444, 588];
const unit = 14.4, gap = 6, bh = 16;
function drawBlocks(list, yTop) {
  list.forEach((blocks, ti) => {
    let x0 = blockStart[ti];
    blocks.forEach(n => {
      const w = n * unit;
      svg.append("rect").attr("x", x0).attr("y", yTop).attr("width", w).attr("height", bh)
        .attr("rx", 1.5).attr("fill", "url(#blk)").attr("stroke", "#222").attr("stroke-width", 0.6)
        .attr("filter", "url(#sh)");
      svg.append("text").attr("x", x0 + w/2).attr("y", yTop + 13).attr("text-anchor","middle")
        .attr("font-family", CAL).attr("font-size", 14).attr("fill", "#fff").text(n);
      x0 += w + gap;
    });
  });
}
drawBlocks(catchBlocks, 40);
drawBlocks(avoidBlocks, 65);
svg.append("line").attr("x1", 25).attr("x2", 722).attr("y1", 90).attr("y2", 90).attr("stroke", "#111").attr("stroke-width", 1.6);

// ---- legends ----
const legOff = [[-3, 118], [-0.5, 118], [5, 104], [1.5, 104]];
legendLabels.forEach((labs, ci) => {
  labs.forEach((lab, j) => {
    const k = legendKeys[ci][j];
    const lx = colX[ci] + legOff[ci][0], ly = legOff[ci][1] + j * 17.5;
    svg.append("line").attr("x1", lx).attr("x2", lx + 21).attr("y1", ly + 1).attr("y2", ly + 1).attr("stroke", bandColor[k]).attr("stroke-width", 2.5);
    svg.append("line").attr("x1", lx).attr("x2", lx + 21).attr("y1", ly).attr("y2", ly).attr("stroke", lineColor[k]).attr("stroke-width", 1.4);
    svg.append("text").attr("x", lx + 23).attr("y", ly + 5).attr("font-family", CAL).attr("font-size", 14.5)
      .attr("fill", lineColor[k]).text(lab);
  });
});

// ---- frames ----
svg.append("rect").attr("x", 28).attr("y", 268).attr("width", 693.7).attr("height", 282)
  .attr("fill", "none").attr("stroke", "#444").attr("stroke-width", 1.3).attr("stroke-dasharray", "4,3");
svg.append("rect").attr("x", 27.5).attr("y", 571).attr("width", 695).attr("height", 416)
  .attr("fill", "none").attr("stroke", "#d0d6ea").attr("stroke-width", 3);
svg.append("rect").attr("x", 26.7).attr("y", 570).attr("width", 695).attr("height", 415)
  .attr("fill", "none").attr("stroke", "#5a78d6").attr("stroke-width", 1.6);
svg.append("text").attr("transform", "translate(25,409) rotate(-90)").attr("text-anchor","middle")
  .attr("font-family", CAL).attr("font-size", 22).attr("fill", "#111").text("whole animat brain");
svg.append("text").attr("transform", "translate(25,779) rotate(-90)").attr("text-anchor","middle")
  .attr("font-family", CAL).attr("font-size", 22).attr("fill", "#1a1ad0").text("main complex");

// ---- panels ----
rows.forEach((row, ri) => {
  colX.forEach((ax, ci) => {
    const g = svg.append("g");
    const x = d3.scaleLinear().domain([0, 6]).range([ax, ax + PW]);
    const y = d3.scaleLinear().domain(row.domain).range([row.bottom, row.top]);
    const cid = `clip${ri}_${ci}`;
    defs.append("clipPath").attr("id", cid).append("rect")
      .attr("x", ax).attr("y", row.top - 1).attr("width", PW + 1).attr("height", row.bottom - row.top + 1);
    const dg = g.append("g").attr("clip-path", `url(#${cid})`);
    const lo = row.domain[0];
    seriesByCol[ci].forEach(k => {
      const [vals, err] = row.s[k];
      const area = d3.area()
        .x((d, i) => x(generations[i]))
        .y0((d, i) => y(Math.max(lo, vals[i] - err[i])))
        .y1((d, i) => y(vals[i] + err[i]));
      dg.append("path").datum(vals).attr("d", area).attr("fill", bandColor[k]).attr("stroke", "none");
      const line = d3.line().x((d, i) => x(generations[i])).y(d => y(d));
      dg.append("path").datum(vals).attr("d", line).attr("fill", "none")
        .attr("stroke", lineColor[k]).attr("stroke-width", 1).attr("stroke-linejoin", "round");
    });
    // axes
    const ya = g.append("g").attr("transform", `translate(${ax},0)`)
      .call(d3.axisLeft(y).tickValues(row.ticks).tickFormat(d => d).tickSizeInner(0).tickSizeOuter(0).tickPadding(3));
    const xa = g.append("g").attr("transform", `translate(0,${row.bottom})`)
      .call(d3.axisBottom(x).tickValues(xTicks).tickFormat(d => d).tickSizeInner(0).tickSizeOuter(0).tickPadding(4));
    [ya, xa].forEach(a => {
      a.attr("font-family", SANS).attr("font-size", 12);
      a.select(".domain").attr("stroke", "#555").attr("stroke-width", 0.9);
      a.selectAll("text").attr("fill", "#111");
    });
    // y label
    const lx = ax + row.ldx + 4, lyc = (row.top + row.bottom) / 2;
    const yl = g.append("text").attr("transform", `translate(${lx},${lyc}) rotate(-90)`)
      .attr("text-anchor", "middle").attr("font-family", SANS).attr("font-size", 12).attr("fill", "#111");
    if (row.label === "sumphi") {
      yl.attr("fill", "#777");
      yl.append("tspan").text("< \u2211");
      yl.append("tspan").attr("font-style", "italic").attr("font-family", "'DejaVu Serif', serif").text("\u03C6");
      yl.append("tspan").attr("font-size", 7).attr("dy", -6).attr("font-family", "'DejaVu Serif', serif").text(" M a x");
      yl.append("tspan").attr("dy", 6).text(" >");
    } else if (row.label === "Phi") {
      yl.attr("fill", "#555");
      yl.append("tspan").text("< ");
      yl.append("tspan").attr("font-family", "'DejaVu Serif', serif").text("\u03A6");
      yl.append("tspan").attr("font-size", 7).attr("dy", -6).attr("font-family", "'DejaVu Serif', serif").text(" M a x");
      yl.append("tspan").attr("dy", 6).text(">");
    } else {
      yl.text(row.label);
    }
    // exponent labels (single text element with tspans)
    if (row.xexp === "plain") {
      const t = g.append("text").attr("x", ax + 120).attr("y", row.bottom + 35).attr("text-anchor", "end")
        .attr("font-family", SANS).attr("font-size", 11).attr("fill", "#111");
      t.append("tspan").text("x 10");
      t.append("tspan").attr("font-size", 7.5).attr("dy", -7).text("4");
    } else if (row.xexp === "gen") {
      const t = g.append("text").attr("x", ax + 120).attr("y", row.bottom + 31).attr("text-anchor", "end")
        .attr("font-family", SANS).attr("font-size", 12).attr("fill", "#111");
      t.append("tspan").text("#Generations");
      t.append("tspan").attr("font-size", 11).attr("dy", 5).text("x 10");
      t.append("tspan").attr("font-size", 7.5).attr("dy", -7).text("4");
    }
  });
});
</script>
</body></html>
